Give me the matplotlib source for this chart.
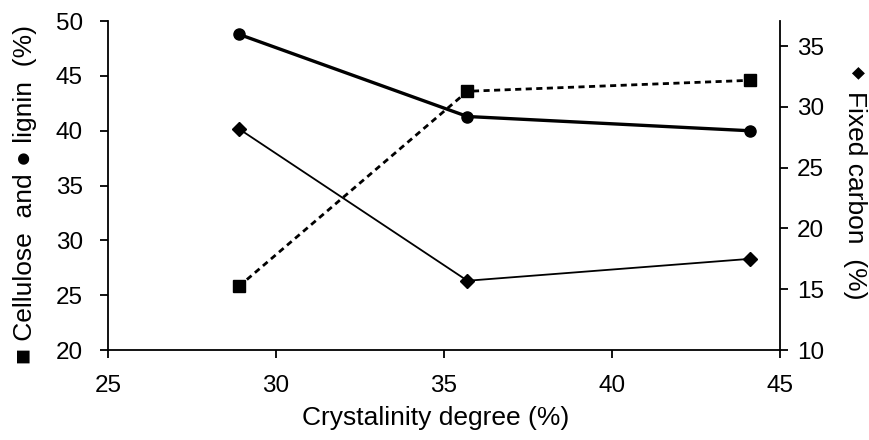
import matplotlib
matplotlib.use("Agg")
import matplotlib.pyplot as plt

plt.rcParams['font.family'] = ['Liberation Sans', 'DejaVu Sans']

crystallinity = [28.9, 35.7, 44.1]
cellulose = [25.8, 43.6, 44.6]
lignin = [48.8, 41.3, 40.0]
fixed_carbon = [28.2, 15.7, 17.5]

x_ticks = [25, 30, 35, 40, 45]
left_ticks = [20, 25, 30, 35, 40, 45, 50]
right_ticks = [10, 15, 20, 25, 30, 35]

fig = plt.figure(figsize=(8.69, 4.40), dpi=100)
ax = fig.add_axes([0.124, 0.2045, 0.7736, 0.7475])
ax2 = ax.twinx()

ax.plot(crystallinity, lignin, color='black', lw=2.4, marker='o', ms=8, zorder=3)
ax.plot(crystallinity, cellulose, color='black', lw=2.0, ls=(0, (2.2, 1.6)),
        marker='s', ms=8.5, zorder=3)
ax2.plot(crystallinity, fixed_carbon, color='black', lw=1.3, marker='D', ms=7.5, zorder=3)

ax.set_xlim(25, 45)
ax.set_ylim(20, 50)
ax2.set_ylim(10, 37.06)
ax.set_xticks(x_ticks)
ax.set_yticks(left_ticks)
ax2.set_yticks(right_ticks)

for a in (ax, ax2):
    a.spines['top'].set_visible(False)
    for s in a.spines.values():
        s.set_linewidth(1.3)
    a.tick_params(direction='out', length=6, width=1.3, labelsize=17.5, pad=6)
ax.spines['right'].set_visible(False)
ax2.spines['left'].set_visible(False)
ax2.spines['bottom'].set_visible(False)
ax.tick_params(axis='x', pad=12)
ax.tick_params(axis='y', pad=12)

fig.text(0.5 * (108 + 780) / 869 - 0.01, 1 - 418 / 440, 'Crystalinity degree (%)',
         ha='center', va='center', fontsize=19)
fig.text(25 / 869, 1 - 194 / 440, '■ Cellulose  and ● lignin  (%)',
         rotation=90, ha='center', va='center', fontsize=19)
fig.text(857 / 869, 1 - 72 / 440, '◆', rotation=270, ha='center', va='center',
         fontsize=12, family='DejaVu Sans')
fig.text(855 / 869, 1 - 195 / 440, 'Fixed carbon  (%)',
         rotation=270, ha='center', va='center', fontsize=19)

fig.savefig('out.png', dpi=100)
